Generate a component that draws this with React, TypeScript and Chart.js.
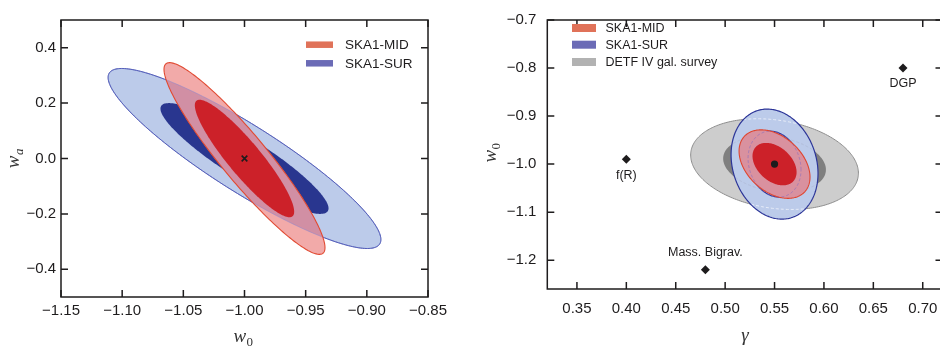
import { useEffect, useRef } from "react";
import { Chart, registerables } from "chart.js";
Chart.register(...registerables);

// ---------- Left panel: w0 – wa ----------
const leftXTicks = [-1.15, -1.1, -1.05, -1.0, -0.95, -0.9, -0.85];
const leftYTicks = [-0.4, -0.2, 0.0, 0.2, 0.4];
const leftXRange = [-1.15, -0.85];
const leftYRange = [-0.5, 0.5];
// contour: [centre w0, centre wa, half-extent w0, half-extent wa, correlation]
const surOuterL = [-1.0, 0.0, 0.1115, 0.325, -0.9];
const surInnerL = [-1.0, 0.0, 0.0687, 0.2, -0.9];
const midOuterL = [-1.0, 0.0, 0.0658, 0.346, -0.93];
const midInnerL = [-1.0, 0.0, 0.0406, 0.212, -0.905];
const fiducialL = [-1.0, 0.0];
const leftLegend = ["SKA1-MID", "SKA1-SUR"];

// ---------- Right panel: gamma – w0 ----------
const rightXTicks = [0.35, 0.4, 0.45, 0.5, 0.55, 0.6, 0.65, 0.7];
const rightYTicks = [-1.2, -1.1, -1.0, -0.9, -0.8, -0.7];
const rightXRange = [0.32, 0.72];
const rightYRange = [-1.26, -0.7];
// contour: [centre gamma, centre w0, half-extent gamma, half-extent w0, correlation]
const detfOuterR = [0.55, -1.0, 0.0849, 0.0944, -0.2];
const detfInnerR = [0.55, -1.0, 0.052, 0.058, -0.2];
const surOuterR = [0.55, -1.0, 0.044, 0.1145, -0.17];
const surInnerR = [0.55, -1.0, 0.0268, 0.0685, -0.17];
const midOuterR = [0.55, -1.0, 0.0359, 0.0713, -0.38];
const midInnerR = [0.55, -1.0, 0.0223, 0.0442, -0.38];
const fiducialR = [0.55, -1.0];
const modelNames = ["f(R)", "DGP", "Mass. Bigrav."];
const modelGamma = [0.4, 0.68, 0.48];
const modelW0 = [-0.99, -0.8, -1.22];
const modelLabelAbove = [false, false, true];
const rightLegend = ["SKA1-MID", "SKA1-SUR", "DETF IV gal. survey"];

const SANS = "'Liberation Sans', Arial, Helvetica, sans-serif";
const SERIF = "'Liberation Serif', 'DejaVu Serif', serif";
const INK = "#1e1c1d";

function fmt(v: number, d: number) {
  const s = Math.abs(v).toFixed(d);
  return v < -1e-9 ? "\u2212" + s : s;
}

function ellipsePath(ctx: CanvasRenderingContext2D, chart: any, c: number[]) {
  const [cx, cy, hx, hy, r] = c;
  const xs = chart.scales.x;
  const ys = chart.scales.y;
  const s = Math.sqrt(1 - r * r);
  const n = 240;
  ctx.beginPath();
  for (let i = 0; i <= n; i++) {
    const t = (i / n) * Math.PI * 2;
    const x = cx + hx * Math.cos(t);
    const y = cy + hy * (r * Math.cos(t) + s * Math.sin(t));
    const px = xs.getPixelForValue(x);
    const py = ys.getPixelForValue(y);
    if (i === 0) ctx.moveTo(px, py);
    else ctx.lineTo(px, py);
  }
  ctx.closePath();
}

function fillE(ctx: CanvasRenderingContext2D, chart: any, c: number[], color: string) {
  ellipsePath(ctx, chart, c);
  ctx.fillStyle = color;
  ctx.fill();
}
function strokeE(ctx: CanvasRenderingContext2D, chart: any, c: number[], color: string, w: number, dash: number[] = []) {
  ellipsePath(ctx, chart, c);
  ctx.setLineDash(dash);
  ctx.strokeStyle = color;
  ctx.lineWidth = w;
  ctx.stroke();
  ctx.setLineDash([]);
}

function drawFrame(chart: any, xTicks: number[], yTicks: number[]) {
  const ctx: CanvasRenderingContext2D = chart.ctx;
  const a = chart.chartArea;
  const xs = chart.scales.x;
  const ys = chart.scales.y;
  const tl = 7;
  ctx.save();
  ctx.strokeStyle = INK;
  ctx.lineWidth = 1.5;
  ctx.strokeRect(a.left, a.top, a.right - a.left, a.bottom - a.top);
  ctx.beginPath();
  xTicks.forEach((v) => {
    const px = xs.getPixelForValue(v);
    ctx.moveTo(px, a.bottom);
    ctx.lineTo(px, a.bottom - tl);
    ctx.moveTo(px, a.top);
    ctx.lineTo(px, a.top + tl);
  });
  yTicks.forEach((v) => {
    const py = ys.getPixelForValue(v);
    ctx.moveTo(a.left, py);
    ctx.lineTo(a.left + tl, py);
    ctx.moveTo(a.right, py);
    ctx.lineTo(a.right - tl, py);
  });
  ctx.stroke();
  ctx.restore();
}

function drawSubTitle(ctx: CanvasRenderingContext2D, x: number, y: number, main: string, sub: string, rotate: boolean, size = 19) {
  ctx.save();
  ctx.translate(x, y);
  if (rotate) ctx.rotate(-Math.PI / 2);
  ctx.fillStyle = "#333";
  ctx.textBaseline = "alphabetic";
  ctx.font = `italic ${size}px ${SERIF}`;
  const w1 = ctx.measureText(main).width;
  ctx.font = `${Math.round(size * 0.68)}px ${SERIF}`;
  const w2 = sub ? ctx.measureText(sub).width : 0;
  const total = w1 + w2;
  const x0 = -total / 2;
  ctx.font = `italic ${size}px ${SERIF}`;
  ctx.fillText(main, x0, 4);
  if (sub) {
    ctx.font = (sub === "a" ? "italic " : "") + `${Math.round(size * 0.68)}px ${SERIF}`;
    ctx.fillText(sub, x0 + w1 + 0.5, 8);
  }
  ctx.restore();
}

function legend(ctx: CanvasRenderingContext2D, x: number, ys: number[], labels: string[], colors: string[], sw: number, sh: number, fontSize: number, gap: number) {
  ctx.save();
  ctx.font = `${fontSize}px ${SANS}`;
  ctx.textBaseline = "middle";
  labels.forEach((l, i) => {
    ctx.fillStyle = colors[i];
    ctx.fillRect(x, ys[i] - sh / 2, sw, sh);
    ctx.fillStyle = INK;
    ctx.fillText(l, x + sw + gap, ys[i] + 0.5);
  });
  ctx.restore();
}

const leftPlugin = {
  id: "leftPanel",
  beforeDatasetsDraw(chart: any) {
    const ctx: CanvasRenderingContext2D = chart.ctx;
    ctx.save();
    // SKA1-SUR
    fillE(ctx, chart, surOuterL, "#bccbea");
    strokeE(ctx, chart, surOuterL, "#3a43a4", 1);
    fillE(ctx, chart, surInnerL, "#29368f");
    // SKA1-MID outer: pink, mauve where over SUR
    fillE(ctx, chart, midOuterL, "#f2aaa9");
    ctx.save();
    ellipsePath(ctx, chart, midOuterL);
    ctx.clip();
    fillE(ctx, chart, surOuterL, "#d18fa4");
    ctx.restore();
    fillE(ctx, chart, midInnerL, "#cc2129");
    strokeE(ctx, chart, surOuterL, "rgba(120,130,215,0.55)", 0.8);
    strokeE(ctx, chart, midOuterL, "#e14a32", 1.1);
    ctx.restore();
  },
  afterDatasetsDraw(chart: any) {
    const ctx: CanvasRenderingContext2D = chart.ctx;
    drawFrame(chart, leftXTicks, leftYTicks);
    legend(ctx, 306, [44.7, 63.3], leftLegend, ["#e07259", "#6b6bb6"], 27, 6.5, 13.5, 12);
    drawSubTitle(ctx, 243, 338, "w", "0", false);
    drawSubTitle(ctx, 15, 159, "w", "a", true);
  },
};

const rightPlugin = {
  id: "rightPanel",
  beforeDatasetsDraw(chart: any) {
    const ctx: CanvasRenderingContext2D = chart.ctx;
    ctx.save();
    // DETF IV
    fillE(ctx, chart, detfOuterR, "#cdcdcd");
    strokeE(ctx, chart, detfOuterR, "#8d8d8d", 1);
    fillE(ctx, chart, detfInnerR, "#7f7f7f");
    // SKA1-SUR
    fillE(ctx, chart, surOuterR, "#bccbea");
    ctx.save();
    ellipsePath(ctx, chart, surOuterR);
    ctx.clip();
    strokeE(ctx, chart, detfOuterR, "rgba(235,240,250,0.9)", 1, [3, 2]);
    strokeE(ctx, chart, detfInnerR, "rgba(170,180,205,0.6)", 0.8, [3, 2]);
    ctx.restore();
    strokeE(ctx, chart, surOuterR, "#2c3598", 1.2);
    strokeE(ctx, chart, surInnerR, "#2c3598", 1.3);
    // SKA1-MID
    fillE(ctx, chart, midOuterR, "#d9919f");
    fillE(ctx, chart, midInnerR, "#cc2129");
    strokeE(ctx, chart, surInnerR, "rgba(125,105,195,0.55)", 1, [3, 2]);
    strokeE(ctx, chart, midOuterR, "#e0452f", 1.1);
    ctx.restore();
  },
  afterDatasetsDraw(chart: any) {
    const ctx: CanvasRenderingContext2D = chart.ctx;
    const xs = chart.scales.x;
    const ys = chart.scales.y;
    drawFrame(chart, rightXTicks, rightYTicks);
    ctx.save();
    ctx.font = `12.5px ${SANS}`;
    ctx.fillStyle = INK;
    ctx.textAlign = "center";
    ctx.textBaseline = "middle";
    modelNames.forEach((n, i) => {
      const px = xs.getPixelForValue(modelGamma[i]);
      const py = ys.getPixelForValue(modelW0[i]);
      ctx.fillText(n, px, py + (modelLabelAbove[i] ? -17 : 16));
    });
    ctx.restore();
    legend(ctx, 102, [28, 44.7, 62], rightLegend, ["#e07259", "#6b6bb6", "#b2b2b2"], 24, 8, 12.5, 9.5);
    drawSubTitle(ctx, 275, 337, "\u03b3", "", false);
    drawSubTitle(ctx, 22, 153, "w", "0", true);
  },
};

function tickFont() {
  return { family: SANS, size: 15 };
}

function Panel(props: { which: "left" | "right" }) {
  const ref = useRef<HTMLCanvasElement | null>(null);
  const left = props.which === "left";
  useEffect(() => {
    if (!ref.current) return;
    const xt = left ? leftXTicks : rightXTicks;
    const yt = left ? leftYTicks : rightYTicks;
    const xr = left ? leftXRange : rightXRange;
    const yr = left ? leftYRange : rightYRange;
    const datasets: any[] = left
      ? [
          {
            data: [{ x: fiducialL[0], y: fiducialL[1] }],
            pointStyle: "crossRot",
            pointRadius: 4,
            borderColor: INK,
            backgroundColor: INK,
            borderWidth: 1.6,
          },
        ]
      : [
          {
            data: modelGamma.map((g, i) => ({ x: g, y: modelW0[i] })),
            pointStyle: "rectRot",
            pointRadius: 4.5,
            borderColor: INK,
            backgroundColor: INK,
            borderWidth: 0,
          },
          {
            data: [{ x: fiducialR[0], y: fiducialR[1] }],
            pointStyle: "circle",
            pointRadius: 3.6,
            borderColor: INK,
            backgroundColor: INK,
            borderWidth: 0,
          },
        ];
    const chart = new Chart(ref.current, {
      type: "scatter",
      data: { datasets },
      options: {
        responsive: false,
        animation: false,
        events: [],
        layout: { padding: left ? { top: 20, right: 42, left: 0, bottom: 0 } : { top: 14, right: 7.5, left: 0, bottom: 0 } },
        plugins: { legend: { display: false }, tooltip: { enabled: false } },
        scales: {
          x: {
            type: "linear",
            min: xr[0],
            max: xr[1],
            grid: { display: false, drawTicks: false },
            border: { display: false },
            ticks: {
              font: tickFont(),
              color: INK,
              padding: left ? 5 : 11,
              maxRotation: 0,
              autoSkip: false,
              callback: (v: any) => fmt(Number(v), 2),
            },
            afterBuildTicks: (s: any) => {
              s.ticks = xt.map((v) => ({ value: v }));
            },
            afterFit: (s: any) => {
              s.height = left ? 53 : 61;
            },
          },
          y: {
            type: "linear",
            min: yr[0],
            max: yr[1],
            grid: { display: false, drawTicks: false },
            border: { display: false },
            ticks: {
              font: tickFont(),
              color: INK,
              padding: left ? 5 : 11,
              autoSkip: false,
              callback: (v: any) => fmt(Number(v), 1),
            },
            afterBuildTicks: (s: any) => {
              s.ticks = yt.map((v) => ({ value: v }));
            },
            afterFit: (s: any) => {
              s.width = left ? 61 : 77.3;
            },
          },
        },
      } as any,
      plugins: [left ? leftPlugin : rightPlugin],
    });
    return () => chart.destroy();
  }, [left]);
  return (
    <div style={{ width: 470, height: 350, overflow: "hidden", position: "relative" }}>
      <canvas ref={ref} width={left ? 470 : 480} height={350} style={{ display: "block", width: left ? 470 : 480, height: 350 }} />
    </div>
  );
}

export default function App() {
  return (
    <div style={{ position: "fixed", left: 0, top: 0, width: 940, height: 350, display: "flex", background: "#fff", overflow: "hidden" }}>
      <Panel which="left" />
      <Panel which="right" />
    </div>
  );
}
